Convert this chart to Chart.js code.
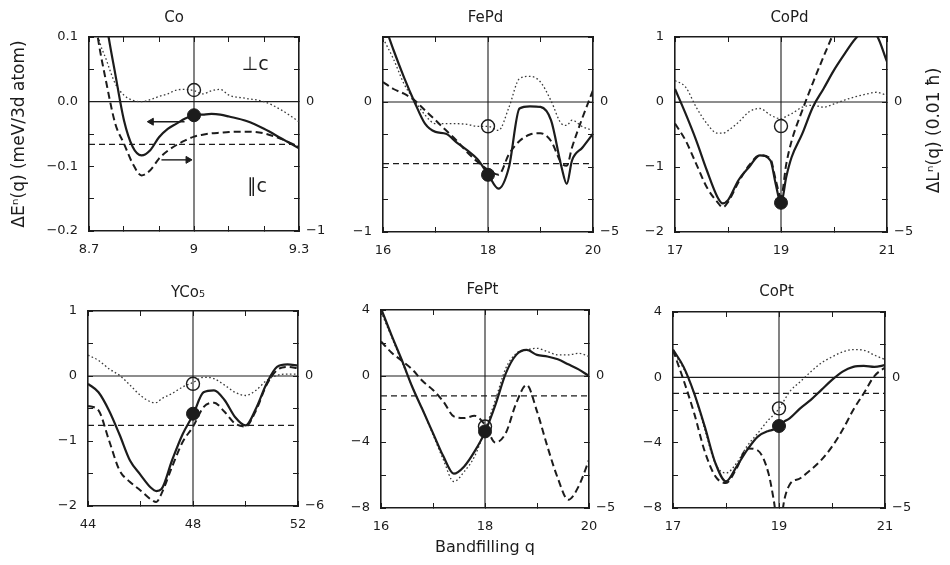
<!DOCTYPE html>
<html><head><meta charset="utf-8">
<script src="https://cdn.jsdelivr.net/npm/chart.js@4.4.1/dist/chart.umd.min.js"></script>
<style>
html,body{margin:0;padding:0;background:#fff;width:950px;height:565px;overflow:hidden;position:relative;}
canvas{position:absolute;}
</style></head><body>
<script>
// ---------------- DATA ----------------
// Co (solid & dotted: left axis, meV/3d atom; dashed: right axis, 0.01 hbar)
const coQ      = [8.70,8.725,8.75,8.775,8.80,8.825,8.85,8.875,8.90,8.925,8.95,8.975,9.00,9.025,9.05,9.075,9.10,9.15,9.20,9.25,9.30];
const coSolid  = [0.35,0.22,0.12,0.043,-0.029,-0.07,-0.083,-0.075,-0.055,-0.042,-0.034,-0.026,-0.021,-0.02,-0.019,-0.02,-0.023,-0.03,-0.042,-0.057,-0.072];
const coDotted = [0.2,0.105,0.064,0.028,0.01,0.002,0.0,0.003,0.008,0.012,0.018,0.019,0.017,0.012,0.017,0.019,0.01,0.005,0.0,-0.013,-0.031];
const coDashed = [1.0,0.5,0.14,-0.17,-0.325,-0.48,-0.57,-0.53,-0.44,-0.38,-0.335,-0.3,-0.27,-0.255,-0.245,-0.24,-0.235,-0.232,-0.245,-0.29,-0.35];
const coRef = -0.066, coOpen = 0.018, coFilled = -0.021;

// FePd
const fepdQ      = [16.0,16.2,16.4,16.6,16.8,17.0,17.2,17.4,17.6,17.8,18.0,18.2,18.4,18.6,18.8,19.0,19.2,19.4,19.5,19.6,19.8,20.0];
const fepdSolid  = [0.63,0.4,0.19,0.0,-0.167,-0.23,-0.244,-0.31,-0.37,-0.44,-0.556,-0.667,-0.5,-0.05,-0.033,-0.038,-0.14,-0.5,-0.63,-0.45,-0.35,-0.244];
const fepdDotted = [0.49,0.33,0.14,0.013,-0.1,-0.167,-0.167,-0.167,-0.172,-0.187,-0.187,-0.218,-0.04,0.18,0.197,0.154,0.01,-0.167,-0.18,-0.14,-0.19,-0.22];
const fepdDashed = [0.77,0.5,0.32,0.065,-0.32,-0.7,-1.09,-1.475,-1.925,-2.3,-2.6,-2.8,-2.0,-1.5,-1.25,-1.2,-1.5,-2.35,-2.45,-1.75,-0.6,0.45];
const fepdRef = -0.474, fepdOpen = -0.187, fepdFilled = -0.56;

// CoPd
const copdQ      = [17.0,17.2,17.4,17.6,17.8,17.9,18.0,18.2,18.4,18.6,18.8,18.9,19.0,19.1,19.2,19.4,19.6,19.8,20.0,20.2,20.4,20.6,20.8,21.0];
const copdSolid  = [0.2,-0.18,-0.59,-1.05,-1.46,-1.56,-1.51,-1.2,-1.0,-0.82,-0.9,-1.26,-1.56,-1.15,-0.85,-0.49,-0.08,0.2,0.49,0.74,0.97,1.1,1.03,0.62];
const copdDotted = [0.33,0.23,-0.08,-0.33,-0.48,-0.48,-0.44,-0.31,-0.15,-0.1,-0.2,-0.24,-0.26,-0.22,-0.18,-0.08,-0.05,-0.08,-0.03,0.03,0.08,0.12,0.15,0.1];
const copdDashed = [-0.83,-1.48,-2.38,-3.28,-3.85,-4.05,-3.85,-3.08,-2.43,-2.05,-2.18,-3.0,-3.65,-2.38,-1.5,-0.33,0.73,1.73,2.7,3.75,4.75,5.75,6.75,7.75];
const copdRef = null, copdOpen = -0.37, copdFilled = -1.55;

// YCo5
const ycoQ      = [44.0,44.4,44.8,45.2,45.6,46.0,46.4,46.6,46.8,47.2,47.6,48.0,48.4,48.8,49.2,49.6,50.0,50.4,50.8,51.2,51.6,52.0];
const ycoSolid  = [-0.12,-0.25,-0.53,-0.9,-1.3,-1.52,-1.72,-1.77,-1.74,-1.3,-0.9,-0.6,-0.25,-0.22,-0.37,-0.63,-0.76,-0.5,-0.12,0.14,0.18,0.16];
const ycoDotted = [0.32,0.24,0.11,0.01,-0.14,-0.3,-0.4,-0.41,-0.35,-0.27,-0.17,-0.1,-0.02,-0.04,-0.14,-0.25,-0.3,-0.22,-0.07,0.01,0.03,0.03];
const ycoDashed = [-1.38,-1.59,-2.97,-4.35,-4.89,-5.28,-5.7,-5.82,-5.43,-4.2,-3.06,-2.34,-1.44,-1.23,-1.65,-2.19,-2.34,-1.59,-0.42,0.27,0.42,0.36];
const ycoRef = -0.76, ycoOpen = -0.12, ycoFilled = -0.58;

// FePt
const feptQ      = [16.0,16.2,16.4,16.6,16.8,17.0,17.2,17.4,17.6,17.8,18.0,18.2,18.4,18.6,18.8,19.0,19.2,19.4,19.6,19.8,20.0];
const feptSolid  = [4.1,2.49,0.97,-0.65,-2.05,-3.46,-4.87,-5.92,-5.48,-4.57,-3.4,-1.75,0.16,1.28,1.58,1.28,1.18,1.01,0.71,0.4,0.0];
const feptDotted = [3.9,2.39,0.87,-0.65,-2.05,-3.56,-5.08,-6.4,-5.8,-4.87,-3.26,-1.45,0.47,1.37,1.58,1.68,1.48,1.28,1.28,1.38,1.18];
const feptDashed = [1.31,0.89,0.58,0.25,-0.19,-0.53,-0.97,-1.53,-1.59,-1.51,-1.85,-2.52,-2.16,-1.03,-0.34,-1.34,-2.67,-3.87,-4.69,-4.18,-3.18];
const feptRef = -1.21, feptOpen = -3.06, feptFilled = -3.36;

// CoPt
const coptQ      = [17.0,17.2,17.4,17.6,17.8,18.0,18.2,18.4,18.6,18.8,18.9,19.0,19.1,19.2,19.4,19.6,19.8,20.0,20.2,20.4,20.6,20.8,21.0];
const coptSolid  = [1.7,0.64,-0.98,-3.02,-5.25,-6.37,-5.46,-4.44,-3.63,-3.28,-3.2,-3.0,-2.7,-2.51,-1.9,-1.38,-0.77,-0.16,0.35,0.64,0.7,0.64,0.75];
const coptDotted = [1.56,0.54,-1.0,-3.2,-5.3,-5.86,-5.25,-4.2,-3.42,-2.61,-2.3,-1.9,-1.4,-0.88,-0.27,0.34,0.89,1.25,1.56,1.7,1.66,1.36,1.09];
const coptDashed = [1.04,-0.11,-1.38,-2.84,-3.79,-4.04,-3.48,-2.72,-2.8,-3.66,-4.69,-5.94,-4.69,-4.11,-3.86,-3.54,-3.16,-2.65,-2.01,-1.25,-0.61,0.05,0.38];
const coptRef = -0.98, coptOpen = -1.9, coptFilled = -2.98;

// Tick labels
const coXLabels = [8.7, 9, 9.3],   coYLabels = [0.1, 0, -0.1, -0.2], coRLabels = [0, -1];
const fepdXLabels = [16, 18, 20],  fepdYLabels = [0, -1],            fepdRLabels = [0, -5];
const copdXLabels = [17, 19, 21],  copdYLabels = [1, 0, -1, -2],     copdRLabels = [0, -5];
const ycoXLabels = [44, 48, 52],   ycoYLabels = [1, 0, -1, -2],      ycoRLabels = [0, -6];
const feptXLabels = [16, 18, 20],  feptYLabels = [4, 0, -4, -8],     feptRLabels = [0, -5];
const coptXLabels = [17, 19, 21],  coptYLabels = [4, 0, -4, -8],     coptRLabels = [0, -5];

// Co annotations (arrows and direction labels, in data units)
const coArrowLeft  = {x1: 8.878, x2: 8.973, y: -0.031};
const coArrowRight = {x1: 8.907, x2: 8.983, y: -0.09};
const coNotes = [{text: '\u22A5c', x: 9.175, y: 0.056}, {text: '\u2225c', x: 9.18, y: -0.132}];

// ---------------- DRAWING ----------------
const FONT = "'DejaVu Sans', sans-serif";
const INK = '#1c1c1c';
Chart.defaults.font.family = FONT;
Chart.defaults.color = INK;

function pts(q, v) { return q.map((x, i) => ({x: x, y: v[i]})); }
function fmt(v, dec) {
  const s = (dec == null) ? String(+v.toFixed(6)) : v.toFixed(dec);
  return s.replace('-', '\u2212');
}
function pick(list, dec) {
  return function (v) {
    for (const L of list) if (Math.abs(v - L) < 1e-6) return fmt(L, dec);
    return '';
  };
}

function makePanel(p) {
  const LW = p.lw, RW = p.rw, BH = p.bh;
  const cLeft = p.box.l - LW, cTop = p.titleY - 12;
  const TH = p.box.t - cTop;
  const W = LW + (p.box.r - p.box.l) + RW;
  const H = TH + (p.box.b - p.box.t) + BH;
  const cv = document.createElement('canvas');
  cv.width = W; cv.height = H;
  cv.style.left = cLeft + 'px'; cv.style.top = cTop + 'px';
  cv.style.width = W + 'px'; cv.style.height = H + 'px';
  document.body.appendChild(cv);

  const line = (data, extra) => Object.assign({
    data: data, borderColor: INK, borderWidth: 2, pointRadius: 0, fill: false,
    cubicInterpolationMode: 'monotone', yAxisID: 'y'
  }, extra);

  const ds = [];
  ds.push({data: [{x: p.center, y: p.filled}], showLine: false, pointRadius: 6.5,
           pointBackgroundColor: INK, pointBorderColor: INK, yAxisID: 'y'});
  ds.push({data: [{x: p.center, y: p.open}], showLine: false, pointRadius: 6.5, pointBorderWidth: 1.4,
           pointBackgroundColor: 'rgba(255,255,255,0)', pointBorderColor: INK, yAxisID: 'y'});
  if (p.arrows) {
    for (const a of p.arrows) {
      ds.push({data: [{x: a.x1, y: a.y}, {x: a.x2, y: a.y}], borderColor: INK, borderWidth: 1.4,
               pointStyle: 'triangle', pointRadius: a.dir < 0 ? [4, 0] : [0, 4],
               pointRotation: a.dir < 0 ? -90 : 90, pointBackgroundColor: INK, pointBorderColor: INK,
               pointBorderWidth: 1, yAxisID: 'y'});
    }
  }
  ds.push(line(pts(p.q, p.solid), {borderWidth: 2.2}));
  ds.push(line(pts(p.q, p.dashed), {borderWidth: 2, borderDash: [7, 4], yAxisID: 'y2'}));
  ds.push(line(pts(p.q, p.dotted), {borderWidth: 1.3, borderDash: [1.6, 2.4], borderColor: '#3a3a3a'}));
  if (p.ref != null) {
    ds.push(line([{x: p.xMin, y: p.ref}, {x: p.xMax, y: p.ref}], {borderWidth: 1.2, borderDash: [6, 4], cubicInterpolationMode: 'default'}));
  }
  ds.push(line([{x: p.xMin, y: 0}, {x: p.xMax, y: 0}], {borderWidth: 1.1, cubicInterpolationMode: 'default'}));
  ds.push(line([{x: p.center, y: p.yMin}, {x: p.center, y: p.yMax}], {borderWidth: 1.1, cubicInterpolationMode: 'default'}));

  const grid = {drawOnChartArea: false, tickLength: -5, color: INK, tickWidth: 1};
  const border = {display: true, color: INK, width: 1.6};
  const tickFont = {size: 13};
  const plugins = [];
  if (p.notes) {
    plugins.push({id: 'notes', afterDatasetsDraw(chart) {
      const ctx = chart.ctx, xs = chart.scales.x, ys = chart.scales.y;
      ctx.save(); ctx.fillStyle = INK; ctx.font = '19px ' + FONT;
      ctx.textAlign = 'center'; ctx.textBaseline = 'middle';
      for (const n of p.notes) ctx.fillText(n.text, xs.getPixelForValue(n.x), ys.getPixelForValue(n.y));
      ctx.restore();
    }});
  }
  if (p.rTitle) {
    plugins.push({id: 'rtitle', afterDraw(chart) {
      const ctx = chart.ctx, a = chart.chartArea;
      ctx.save(); ctx.fillStyle = INK; ctx.font = '17px ' + FONT;
      ctx.translate(a.right + p.rTitleDx, (a.top + a.bottom) / 2 - 4);
      ctx.rotate(-Math.PI / 2);
      ctx.textAlign = 'center'; ctx.textBaseline = 'middle';
      ctx.fillText(p.rTitle, 0, 0);
      ctx.restore();
    }});
  }

  new Chart(cv, {
    type: 'line',
    data: {datasets: ds},
    plugins: plugins,
    options: {
      responsive: false, animation: false, devicePixelRatio: 1,
      layout: {padding: 0},
      plugins: {
        legend: {display: false}, tooltip: {enabled: false},
        title: {display: true, text: p.title, color: INK,
                font: {size: 15, weight: 'normal', lineHeight: 1},
                padding: {top: 5, bottom: TH - 20}}
      },
      scales: {
        x: {type: 'linear', position: 'bottom', min: p.xMin, max: p.xMax,
            ticks: {stepSize: p.xStep, autoSkip: false, maxRotation: 0, padding: 16, font: tickFont, callback: pick(p.xLabels)},
            grid: grid, border: border,
            title: p.xTitle ? {display: true, text: p.xTitle, font: {size: 16}, padding: {top: 0, bottom: 5}, color: INK} : {display: false},
            afterFit(s) { s.height = BH; s.paddingLeft = 0; s.paddingRight = 0; }},
        xt: {type: 'linear', position: 'top', min: p.xMin, max: p.xMax,
             ticks: {stepSize: p.xStep, autoSkip: false, display: false},
             grid: grid, border: border,
             afterFit(s) { s.height = 0; s.paddingLeft = 0; s.paddingRight = 0; }},
        y: {type: 'linear', position: 'left', min: p.yMin, max: p.yMax,
            ticks: {stepSize: p.yStep, autoSkip: false, padding: 16, font: tickFont, callback: pick(p.yLabels, p.yDec)},
            grid: grid, border: border,
            title: p.yTitle ? {display: true, text: p.yTitle, font: {size: 17}, padding: {top: 0, bottom: 0}, color: INK} : {display: false},
            afterFit(s) { s.width = LW; s.paddingTop = 0; s.paddingBottom = 0; }},
        y2: {type: 'linear', position: 'right', min: p.rMin, max: p.rMax,
             ticks: {stepSize: p.rStep, autoSkip: false, padding: 12, font: tickFont, callback: pick(p.rLabels)},
             grid: grid, border: border,
             afterFit(s) { s.width = RW; s.paddingTop = 0; s.paddingBottom = 0; }}
      }
    }
  });
}

makePanel({title: 'Co', box: {l: 89, t: 37, r: 299, b: 231}, titleY: 18, lw: 80, rw: 40, bh: 40,
  q: coQ, solid: coSolid, dotted: coDotted, dashed: coDashed, ref: coRef, open: coOpen, filled: coFilled, center: 9,
  xMin: 8.7, xMax: 9.3, xStep: 0.1, xLabels: coXLabels,
  yMin: -0.2, yMax: 0.1, yStep: 0.05, yLabels: coYLabels, yDec: 1,
  rMin: -1, rMax: 0.5, rStep: 0.25, rLabels: coRLabels,
  yTitle: '\u0394E\u207F(q) (meV/3d atom)',
  arrows: [Object.assign({dir: -1}, coArrowLeft), Object.assign({dir: 1}, coArrowRight)],
  notes: coNotes});

makePanel({title: 'FePd', box: {l: 383, t: 37, r: 593, b: 232}, titleY: 18, lw: 45, rw: 40, bh: 40,
  q: fepdQ, solid: fepdSolid, dotted: fepdDotted, dashed: fepdDashed, ref: fepdRef, open: fepdOpen, filled: fepdFilled, center: 18,
  xMin: 16, xMax: 20, xStep: 1, xLabels: fepdXLabels,
  yMin: -1, yMax: 0.5, yStep: 0.25, yLabels: fepdYLabels,
  rMin: -5, rMax: 2.5, rStep: 1.25, rLabels: fepdRLabels});

makePanel({title: 'CoPd', box: {l: 675, t: 37, r: 887, b: 232}, titleY: 18, lw: 45, rw: 62, bh: 40,
  q: copdQ, solid: copdSolid, dotted: copdDotted, dashed: copdDashed, ref: copdRef, open: copdOpen, filled: copdFilled, center: 19,
  xMin: 17, xMax: 21, xStep: 1, xLabels: copdXLabels,
  yMin: -2, yMax: 1, yStep: 0.5, yLabels: copdYLabels,
  rMin: -5, rMax: 2.5, rStep: 1.25, rLabels: copdRLabels,
  rTitle: '\u0394L\u207F(q) (0.01 \u0127)', rTitleDx: 48});

makePanel({title: 'YCo\u2085', box: {l: 88, t: 311, r: 298, b: 506}, titleY: 293, lw: 50, rw: 40, bh: 40,
  q: ycoQ, solid: ycoSolid, dotted: ycoDotted, dashed: ycoDashed, ref: ycoRef, open: ycoOpen, filled: ycoFilled, center: 48,
  xMin: 44, xMax: 52, xStep: 2, xLabels: ycoXLabels,
  yMin: -2, yMax: 1, yStep: 0.5, yLabels: ycoYLabels,
  rMin: -6, rMax: 3, rStep: 1.5, rLabels: ycoRLabels});

makePanel({title: 'FePt', box: {l: 381, t: 310, r: 589, b: 508}, titleY: 290, lw: 45, rw: 40, bh: 54,
  q: feptQ, solid: feptSolid, dotted: feptDotted, dashed: feptDashed, ref: feptRef, open: feptOpen, filled: feptFilled, center: 18,
  xMin: 16, xMax: 20, xStep: 1, xLabels: feptXLabels,
  yMin: -8, yMax: 4, yStep: 2, yLabels: feptYLabels,
  rMin: -5, rMax: 2.5, rStep: 1.25, rLabels: feptRLabels,
  xTitle: 'Bandfilling q'});

makePanel({title: 'CoPt', box: {l: 673, t: 312, r: 885, b: 508}, titleY: 292, lw: 45, rw: 40, bh: 40,
  q: coptQ, solid: coptSolid, dotted: coptDotted, dashed: coptDashed, ref: coptRef, open: coptOpen, filled: coptFilled, center: 19,
  xMin: 17, xMax: 21, xStep: 1, xLabels: coptXLabels,
  yMin: -8, yMax: 4, yStep: 2, yLabels: coptYLabels,
  rMin: -5, rMax: 2.5, rStep: 1.25, rLabels: coptRLabels});
</script>
</body></html>
